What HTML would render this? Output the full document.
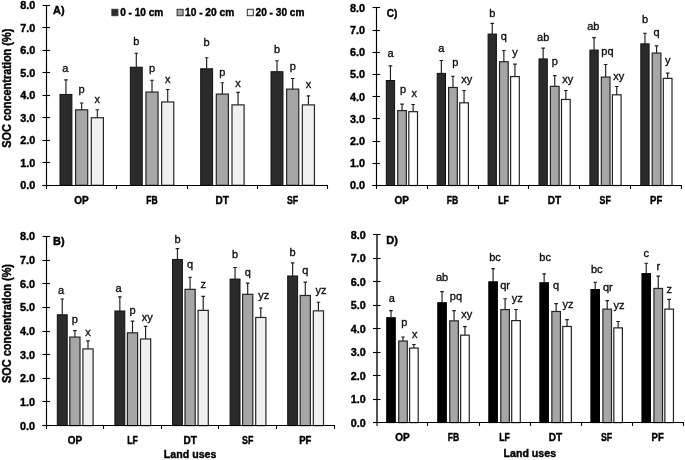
<!DOCTYPE html>
<html><head><meta charset="utf-8"><title>SOC concentration</title>
<style>
html,body{margin:0;padding:0;background:#fff;}
body{width:685px;height:460px;overflow:hidden;}
svg{display:block;filter:grayscale(1);}
text{font-family:"Liberation Sans", sans-serif;fill:#000;}
.tick{font-size:10.8px;font-weight:bold;stroke:#000;stroke-width:0.4px;}
.cat{font-size:10.4px;font-weight:bold;stroke:#000;stroke-width:0.4px;}
.let{font-size:11.0px;fill:#111;stroke:#111;stroke-width:0.35px;}
.ptitle{font-size:11px;font-weight:bold;stroke:#000;stroke-width:0.4px;}
.ytitle{font-size:12px;font-weight:bold;stroke:#000;stroke-width:0.4px;}
.xtitle{font-size:11.2px;font-weight:bold;stroke:#000;stroke-width:0.4px;}
.leg{font-size:10.6px;font-weight:bold;stroke:#000;stroke-width:0.4px;}
</style></head>
<body>
<svg width="685" height="460" viewBox="0 0 685 460">
<rect width="685" height="460" fill="#fff"/>
<rect x="60" y="94.43" width="11.9" height="90.87" fill="#2b2b2b" stroke="#111" stroke-width="1"/>
<rect x="75.6" y="109.83" width="12.1" height="75.47" fill="#a6a6a6" stroke="#262626" stroke-width="1.2"/>
<rect x="91.3" y="117.71" width="12.1" height="67.59" fill="#f0f0f0" stroke="#262626" stroke-width="1.2"/>
<rect x="130.35" y="67.2" width="11.9" height="118.1" fill="#2b2b2b" stroke="#111" stroke-width="1"/>
<rect x="145.95" y="92.05" width="12.1" height="93.25" fill="#a6a6a6" stroke="#262626" stroke-width="1.2"/>
<rect x="161.65" y="101.96" width="12.1" height="83.34" fill="#f0f0f0" stroke="#262626" stroke-width="1.2"/>
<rect x="200.7" y="68.77" width="11.9" height="116.53" fill="#2b2b2b" stroke="#111" stroke-width="1"/>
<rect x="216.3" y="94.08" width="12.1" height="91.22" fill="#a6a6a6" stroke="#262626" stroke-width="1.2"/>
<rect x="232" y="104.88" width="12.1" height="80.42" fill="#f0f0f0" stroke="#262626" stroke-width="1.2"/>
<rect x="271.05" y="71.7" width="11.9" height="113.6" fill="#2b2b2b" stroke="#111" stroke-width="1"/>
<rect x="286.65" y="89.13" width="12.1" height="96.17" fill="#a6a6a6" stroke="#262626" stroke-width="1.2"/>
<rect x="302.35" y="104.88" width="12.1" height="80.42" fill="#f0f0f0" stroke="#262626" stroke-width="1.2"/>
<path d="M65.95 94.43V79.53M64.15 79.83H67.75" stroke="#1e1e1e" stroke-width="1.15" fill="none"/>
<path d="M81.65 109.73V102.71M79.85 103.01H83.45" stroke="#1e1e1e" stroke-width="1.15" fill="none"/>
<path d="M97.35 117.61V109.46M95.55 109.76H99.15" stroke="#1e1e1e" stroke-width="1.15" fill="none"/>
<path d="M136.3 67.2V52.97M134.5 53.27H138.1" stroke="#1e1e1e" stroke-width="1.15" fill="none"/>
<path d="M152 91.95V79.98M150.2 80.28H153.8" stroke="#1e1e1e" stroke-width="1.15" fill="none"/>
<path d="M167.7 101.86V89.2M165.9 89.5H169.5" stroke="#1e1e1e" stroke-width="1.15" fill="none"/>
<path d="M206.65 68.77V57.47M204.85 57.77H208.45" stroke="#1e1e1e" stroke-width="1.15" fill="none"/>
<path d="M222.35 93.98V82.45M220.55 82.75H224.15" stroke="#1e1e1e" stroke-width="1.15" fill="none"/>
<path d="M238.05 104.78V92.13M236.25 92.43H239.85" stroke="#1e1e1e" stroke-width="1.15" fill="none"/>
<path d="M277 71.7V60.4M275.2 60.7H278.8" stroke="#1e1e1e" stroke-width="1.15" fill="none"/>
<path d="M292.7 89.03V78.18M290.9 78.48H294.5" stroke="#1e1e1e" stroke-width="1.15" fill="none"/>
<path d="M308.4 104.78V95.51M306.6 95.81H310.2" stroke="#1e1e1e" stroke-width="1.15" fill="none"/>
<text x="65.35" y="71.8" text-anchor="middle" class="let">a</text>
<text x="81.65" y="92.5" text-anchor="middle" class="let">p</text>
<text x="97.35" y="102.6" text-anchor="middle" class="let">x</text>
<text x="136.3" y="44.8" text-anchor="middle" class="let">b</text>
<text x="152" y="72" text-anchor="middle" class="let">p</text>
<text x="167.7" y="83" text-anchor="middle" class="let">x</text>
<text x="206.65" y="46" text-anchor="middle" class="let">b</text>
<text x="222.35" y="75.7" text-anchor="middle" class="let">p</text>
<text x="238.05" y="87" text-anchor="middle" class="let">x</text>
<text x="277" y="52.6" text-anchor="middle" class="let">b</text>
<text x="292.7" y="69.6" text-anchor="middle" class="let">p</text>
<text x="308.4" y="88" text-anchor="middle" class="let">x</text>
<path d="M46.5 5V186" stroke="#000" stroke-width="1.15" fill="none"/>
<path d="M42.5 185.5H328" stroke="#000" stroke-width="1.15" fill="none"/>
<path d="M42.5 185.5H50.1" stroke="#000" stroke-width="1.1"/>
<text x="35.2" y="189.2" text-anchor="end" class="tick">0.0</text>
<path d="M42.5 162.5H50.1" stroke="#000" stroke-width="1.1"/>
<text x="35.2" y="166.7" text-anchor="end" class="tick">1.0</text>
<path d="M42.5 140.5H50.1" stroke="#000" stroke-width="1.1"/>
<text x="35.2" y="144.19" text-anchor="end" class="tick">2.0</text>
<path d="M42.5 117.5H50.1" stroke="#000" stroke-width="1.1"/>
<text x="35.2" y="121.69" text-anchor="end" class="tick">3.0</text>
<path d="M42.5 95.5H50.1" stroke="#000" stroke-width="1.1"/>
<text x="35.2" y="99.18" text-anchor="end" class="tick">4.0</text>
<path d="M42.5 72.5H50.1" stroke="#000" stroke-width="1.1"/>
<text x="35.2" y="76.68" text-anchor="end" class="tick">5.0</text>
<path d="M42.5 50.5H50.1" stroke="#000" stroke-width="1.1"/>
<text x="35.2" y="54.17" text-anchor="end" class="tick">6.0</text>
<path d="M42.5 27.5H50.1" stroke="#000" stroke-width="1.1"/>
<text x="35.2" y="31.66" text-anchor="end" class="tick">7.0</text>
<path d="M42.5 5.5H50.1" stroke="#000" stroke-width="1.1"/>
<text x="35.2" y="9.16" text-anchor="end" class="tick">8.0</text>
<path d="M46.5 185.5V188.9" stroke="#000" stroke-width="1.1"/>
<path d="M116.5 185.5V188.9" stroke="#000" stroke-width="1.1"/>
<path d="M187.5 185.5V188.9" stroke="#000" stroke-width="1.1"/>
<path d="M257.5 185.5V188.9" stroke="#000" stroke-width="1.1"/>
<path d="M327.5 185.5V188.9" stroke="#000" stroke-width="1.1"/>
<text x="81.57" y="203.9" text-anchor="middle" class="cat" textLength="14.4" lengthAdjust="spacingAndGlyphs">OP</text>
<text x="151.92" y="203.9" text-anchor="middle" class="cat" textLength="11.4" lengthAdjust="spacingAndGlyphs">FB</text>
<text x="222.28" y="203.9" text-anchor="middle" class="cat" textLength="13.4" lengthAdjust="spacingAndGlyphs">DT</text>
<text x="292.62" y="203.9" text-anchor="middle" class="cat" textLength="11.3" lengthAdjust="spacingAndGlyphs">SF</text>
<text x="53" y="14" class="ptitle" textLength="11.6" lengthAdjust="spacingAndGlyphs">A)</text>
<text transform="translate(10.9 88.2) rotate(-90)" text-anchor="middle" class="ytitle" textLength="119" lengthAdjust="spacingAndGlyphs">SOC concentration (%)</text>
<rect x="57.3" y="314.77" width="9.9" height="110.83" fill="#2b2b2b" stroke="#111" stroke-width="1"/>
<rect x="69.8" y="337.09" width="10.2" height="88.51" fill="#a6a6a6" stroke="#262626" stroke-width="1.2"/>
<rect x="82.9" y="348.91" width="10.2" height="76.69" fill="#f0f0f0" stroke="#262626" stroke-width="1.2"/>
<rect x="114.9" y="310.99" width="9.9" height="114.61" fill="#2b2b2b" stroke="#111" stroke-width="1"/>
<rect x="127.4" y="332.83" width="10.2" height="92.77" fill="#a6a6a6" stroke="#262626" stroke-width="1.2"/>
<rect x="140.5" y="338.98" width="10.2" height="86.62" fill="#f0f0f0" stroke="#262626" stroke-width="1.2"/>
<rect x="172.5" y="259.46" width="9.9" height="166.14" fill="#2b2b2b" stroke="#111" stroke-width="1"/>
<rect x="185" y="289.34" width="10.2" height="136.26" fill="#a6a6a6" stroke="#262626" stroke-width="1.2"/>
<rect x="198.1" y="310.38" width="10.2" height="115.22" fill="#f0f0f0" stroke="#262626" stroke-width="1.2"/>
<rect x="230.1" y="279.07" width="9.9" height="146.53" fill="#2b2b2b" stroke="#111" stroke-width="1"/>
<rect x="242.6" y="294.3" width="10.2" height="131.3" fill="#a6a6a6" stroke="#262626" stroke-width="1.2"/>
<rect x="255.7" y="317.47" width="10.2" height="108.13" fill="#f0f0f0" stroke="#262626" stroke-width="1.2"/>
<rect x="287.7" y="276" width="9.9" height="149.6" fill="#2b2b2b" stroke="#111" stroke-width="1"/>
<rect x="300.2" y="295.48" width="10.2" height="130.12" fill="#a6a6a6" stroke="#262626" stroke-width="1.2"/>
<rect x="313.3" y="310.85" width="10.2" height="114.75" fill="#f0f0f0" stroke="#262626" stroke-width="1.2"/>
<path d="M62.25 314.77V298.67M60.45 298.97H64.05" stroke="#1e1e1e" stroke-width="1.15" fill="none"/>
<path d="M74.9 336.99V330.34M73.1 330.64H76.7" stroke="#1e1e1e" stroke-width="1.15" fill="none"/>
<path d="M88 348.81V340.5M86.2 340.81H89.8" stroke="#1e1e1e" stroke-width="1.15" fill="none"/>
<path d="M119.85 310.99V296.54M118.05 296.84H121.65" stroke="#1e1e1e" stroke-width="1.15" fill="none"/>
<path d="M132.5 332.73V320.89M130.7 321.19H134.3" stroke="#1e1e1e" stroke-width="1.15" fill="none"/>
<path d="M145.6 338.88V326.09M143.8 326.39H147.4" stroke="#1e1e1e" stroke-width="1.15" fill="none"/>
<path d="M177.45 259.46V248.32M175.65 248.62H179.25" stroke="#1e1e1e" stroke-width="1.15" fill="none"/>
<path d="M190.1 289.24V276.92M188.3 277.22H191.9" stroke="#1e1e1e" stroke-width="1.15" fill="none"/>
<path d="M203.2 310.28V296.07M201.4 296.37H205" stroke="#1e1e1e" stroke-width="1.15" fill="none"/>
<path d="M235.05 279.07V267.23M233.25 267.53H236.85" stroke="#1e1e1e" stroke-width="1.15" fill="none"/>
<path d="M247.7 294.2V282.83M245.9 283.13H249.5" stroke="#1e1e1e" stroke-width="1.15" fill="none"/>
<path d="M260.8 317.37V307.65M259 307.95H262.6" stroke="#1e1e1e" stroke-width="1.15" fill="none"/>
<path d="M292.65 276V262.5M290.85 262.8H294.45" stroke="#1e1e1e" stroke-width="1.15" fill="none"/>
<path d="M305.3 295.38V281.88M303.5 282.18H307.1" stroke="#1e1e1e" stroke-width="1.15" fill="none"/>
<path d="M318.4 310.75V301.98M316.6 302.28H320.2" stroke="#1e1e1e" stroke-width="1.15" fill="none"/>
<text x="60.95" y="294.3" text-anchor="middle" class="let">a</text>
<text x="74.9" y="322.7" text-anchor="middle" class="let">p</text>
<text x="88" y="335.7" text-anchor="middle" class="let">x</text>
<text x="118.65" y="291.7" text-anchor="middle" class="let">a</text>
<text x="132.5" y="314" text-anchor="middle" class="let">p</text>
<text x="147.3" y="321.3" text-anchor="middle" class="let">xy</text>
<text x="177.45" y="243" text-anchor="middle" class="let">b</text>
<text x="190.1" y="268.4" text-anchor="middle" class="let">q</text>
<text x="203.2" y="287.7" text-anchor="middle" class="let">z</text>
<text x="235.05" y="258.3" text-anchor="middle" class="let">b</text>
<text x="247.7" y="275.7" text-anchor="middle" class="let">q</text>
<text x="263.7" y="298.5" text-anchor="middle" class="let">yz</text>
<text x="292.65" y="256.1" text-anchor="middle" class="let">b</text>
<text x="305.3" y="274" text-anchor="middle" class="let">q</text>
<text x="321.1" y="294" text-anchor="middle" class="let">yz</text>
<path d="M46.5 236V426" stroke="#000" stroke-width="1.15" fill="none"/>
<path d="M42.5 425.5H335" stroke="#000" stroke-width="1.15" fill="none"/>
<path d="M42.5 425.5H50.1" stroke="#000" stroke-width="1.1"/>
<text x="34.9" y="429.5" text-anchor="end" class="tick">0.0</text>
<path d="M42.5 401.5H50.1" stroke="#000" stroke-width="1.1"/>
<text x="34.9" y="405.86" text-anchor="end" class="tick">1.0</text>
<path d="M42.5 378.5H50.1" stroke="#000" stroke-width="1.1"/>
<text x="34.9" y="382.23" text-anchor="end" class="tick">2.0</text>
<path d="M42.5 354.5H50.1" stroke="#000" stroke-width="1.1"/>
<text x="34.9" y="358.59" text-anchor="end" class="tick">3.0</text>
<path d="M42.5 331.5H50.1" stroke="#000" stroke-width="1.1"/>
<text x="34.9" y="334.95" text-anchor="end" class="tick">4.0</text>
<path d="M42.5 307.5H50.1" stroke="#000" stroke-width="1.1"/>
<text x="34.9" y="311.31" text-anchor="end" class="tick">5.0</text>
<path d="M42.5 283.5H50.1" stroke="#000" stroke-width="1.1"/>
<text x="34.9" y="287.67" text-anchor="end" class="tick">6.0</text>
<path d="M42.5 260.5H50.1" stroke="#000" stroke-width="1.1"/>
<text x="34.9" y="264.04" text-anchor="end" class="tick">7.0</text>
<path d="M42.5 236.5H50.1" stroke="#000" stroke-width="1.1"/>
<text x="34.9" y="240.4" text-anchor="end" class="tick">8.0</text>
<path d="M46.5 425.5V428.9" stroke="#000" stroke-width="1.1"/>
<path d="M103.5 425.5V428.9" stroke="#000" stroke-width="1.1"/>
<path d="M161.5 425.5V428.9" stroke="#000" stroke-width="1.1"/>
<path d="M218.5 425.5V428.9" stroke="#000" stroke-width="1.1"/>
<path d="M276.5 425.5V428.9" stroke="#000" stroke-width="1.1"/>
<path d="M334.5 425.5V428.9" stroke="#000" stroke-width="1.1"/>
<text x="74.9" y="444.2" text-anchor="middle" class="cat" textLength="14.4" lengthAdjust="spacingAndGlyphs">OP</text>
<text x="132.5" y="444.2" text-anchor="middle" class="cat" textLength="10.6" lengthAdjust="spacingAndGlyphs">LF</text>
<text x="190.1" y="444.2" text-anchor="middle" class="cat" textLength="13.4" lengthAdjust="spacingAndGlyphs">DT</text>
<text x="247.7" y="444.2" text-anchor="middle" class="cat" textLength="11.3" lengthAdjust="spacingAndGlyphs">SF</text>
<text x="305.3" y="444.2" text-anchor="middle" class="cat" textLength="12.2" lengthAdjust="spacingAndGlyphs">PF</text>
<text x="53" y="245" class="ptitle" textLength="11.6" lengthAdjust="spacingAndGlyphs">B)</text>
<text transform="translate(10.9 323.5) rotate(-90)" text-anchor="middle" class="ytitle" textLength="119" lengthAdjust="spacingAndGlyphs">SOC concentration (%)</text>
<text x="190.1" y="458.1" text-anchor="middle" class="xtitle" textLength="52.5" lengthAdjust="spacingAndGlyphs">Land uses</text>
<rect x="386.3" y="80.49" width="8.3" height="105.01" fill="#2b2b2b" stroke="#111" stroke-width="1"/>
<rect x="397.7" y="110.58" width="8.7" height="74.92" fill="#a6a6a6" stroke="#262626" stroke-width="1.2"/>
<rect x="408.8" y="111.69" width="8.7" height="73.81" fill="#ffffff" stroke="#222" stroke-width="1.2"/>
<rect x="437.2" y="73.38" width="8.3" height="112.12" fill="#2b2b2b" stroke="#111" stroke-width="1"/>
<rect x="448.6" y="87.48" width="8.7" height="98.02" fill="#a6a6a6" stroke="#262626" stroke-width="1.2"/>
<rect x="459.7" y="102.8" width="8.7" height="82.7" fill="#ffffff" stroke="#222" stroke-width="1.2"/>
<rect x="488.1" y="34.07" width="8.3" height="151.43" fill="#2b2b2b" stroke="#111" stroke-width="1"/>
<rect x="499.5" y="61.71" width="8.7" height="123.79" fill="#a6a6a6" stroke="#262626" stroke-width="1.2"/>
<rect x="510.6" y="76.59" width="8.7" height="108.91" fill="#ffffff" stroke="#222" stroke-width="1.2"/>
<rect x="539" y="58.94" width="8.3" height="126.56" fill="#2b2b2b" stroke="#111" stroke-width="1"/>
<rect x="550.4" y="86.37" width="8.7" height="99.13" fill="#a6a6a6" stroke="#262626" stroke-width="1.2"/>
<rect x="561.5" y="99.47" width="8.7" height="86.03" fill="#ffffff" stroke="#222" stroke-width="1.2"/>
<rect x="589.9" y="50.06" width="8.3" height="135.44" fill="#2b2b2b" stroke="#111" stroke-width="1"/>
<rect x="601.3" y="77.04" width="8.7" height="108.46" fill="#a6a6a6" stroke="#262626" stroke-width="1.2"/>
<rect x="612.4" y="94.81" width="8.7" height="90.69" fill="#ffffff" stroke="#222" stroke-width="1.2"/>
<rect x="640.8" y="43.84" width="8.3" height="141.66" fill="#2b2b2b" stroke="#111" stroke-width="1"/>
<rect x="652.2" y="53.05" width="8.7" height="132.45" fill="#a6a6a6" stroke="#262626" stroke-width="1.2"/>
<rect x="663.3" y="78.37" width="8.7" height="107.13" fill="#ffffff" stroke="#222" stroke-width="1.2"/>
<path d="M390.45 80.49V65.55M388.65 65.85H392.25" stroke="#1e1e1e" stroke-width="1.15" fill="none"/>
<path d="M402.05 110.48V103.76M400.25 104.06H403.85" stroke="#1e1e1e" stroke-width="1.15" fill="none"/>
<path d="M413.15 111.59V104.2M411.35 104.5H414.95" stroke="#1e1e1e" stroke-width="1.15" fill="none"/>
<path d="M441.35 73.38V60.22M439.55 60.52H443.15" stroke="#1e1e1e" stroke-width="1.15" fill="none"/>
<path d="M452.95 87.38V75.99M451.15 76.29H454.75" stroke="#1e1e1e" stroke-width="1.15" fill="none"/>
<path d="M464.05 102.7V90.21M462.25 90.51H465.85" stroke="#1e1e1e" stroke-width="1.15" fill="none"/>
<path d="M492.25 34.07V23.13M490.45 23.43H494.05" stroke="#1e1e1e" stroke-width="1.15" fill="none"/>
<path d="M503.85 61.61V50.23M502.05 50.53H505.65" stroke="#1e1e1e" stroke-width="1.15" fill="none"/>
<path d="M514.95 76.49V63.78M513.15 64.08H516.75" stroke="#1e1e1e" stroke-width="1.15" fill="none"/>
<path d="M543.15 58.94V47.78M541.35 48.08H544.95" stroke="#1e1e1e" stroke-width="1.15" fill="none"/>
<path d="M554.75 86.27V75.33M552.95 75.63H556.55" stroke="#1e1e1e" stroke-width="1.15" fill="none"/>
<path d="M565.85 99.37V90.21M564.05 90.51H567.65" stroke="#1e1e1e" stroke-width="1.15" fill="none"/>
<path d="M594.05 50.06V37.34M592.25 37.64H595.85" stroke="#1e1e1e" stroke-width="1.15" fill="none"/>
<path d="M605.65 76.94V64.22M603.85 64.52H607.45" stroke="#1e1e1e" stroke-width="1.15" fill="none"/>
<path d="M616.75 94.71V86.21M614.95 86.51H618.55" stroke="#1e1e1e" stroke-width="1.15" fill="none"/>
<path d="M644.95 43.84V32.9M643.15 33.2H646.75" stroke="#1e1e1e" stroke-width="1.15" fill="none"/>
<path d="M656.55 52.95V45.56M654.75 45.86H658.35" stroke="#1e1e1e" stroke-width="1.15" fill="none"/>
<path d="M667.65 78.27V72.88M665.85 73.18H669.45" stroke="#1e1e1e" stroke-width="1.15" fill="none"/>
<text x="390.45" y="57.4" text-anchor="middle" class="let">a</text>
<text x="403.15" y="93.4" text-anchor="middle" class="let">p</text>
<text x="414.25" y="97.3" text-anchor="middle" class="let">x</text>
<text x="441.35" y="52.2" text-anchor="middle" class="let">a</text>
<text x="455.35" y="66.2" text-anchor="middle" class="let">p</text>
<text x="466.85" y="83" text-anchor="middle" class="let">xy</text>
<text x="492.25" y="16.5" text-anchor="middle" class="let">b</text>
<text x="503.85" y="40.4" text-anchor="middle" class="let">q</text>
<text x="514.95" y="56" text-anchor="middle" class="let">y</text>
<text x="543.15" y="40.5" text-anchor="middle" class="let">ab</text>
<text x="554.75" y="65.3" text-anchor="middle" class="let">p</text>
<text x="567.75" y="83.2" text-anchor="middle" class="let">xy</text>
<text x="593.25" y="29.5" text-anchor="middle" class="let">ab</text>
<text x="607.45" y="55.2" text-anchor="middle" class="let">pq</text>
<text x="618.75" y="80.4" text-anchor="middle" class="let">xy</text>
<text x="644.95" y="22.8" text-anchor="middle" class="let">b</text>
<text x="656.55" y="36.3" text-anchor="middle" class="let">q</text>
<text x="667.65" y="63.9" text-anchor="middle" class="let">y</text>
<path d="M376.5 7V186" stroke="#000" stroke-width="1.15" fill="none"/>
<path d="M372.5 185.5H682" stroke="#000" stroke-width="1.15" fill="none"/>
<path d="M372.5 185.5H380.1" stroke="#000" stroke-width="1.1"/>
<text x="365" y="189.4" text-anchor="end" class="tick">0.0</text>
<path d="M372.5 163.5H380.1" stroke="#000" stroke-width="1.1"/>
<text x="365" y="167.19" text-anchor="end" class="tick">1.0</text>
<path d="M372.5 141.5H380.1" stroke="#000" stroke-width="1.1"/>
<text x="365" y="144.97" text-anchor="end" class="tick">2.0</text>
<path d="M372.5 118.5H380.1" stroke="#000" stroke-width="1.1"/>
<text x="365" y="122.76" text-anchor="end" class="tick">3.0</text>
<path d="M372.5 96.5H380.1" stroke="#000" stroke-width="1.1"/>
<text x="365" y="100.55" text-anchor="end" class="tick">4.0</text>
<path d="M372.5 74.5H380.1" stroke="#000" stroke-width="1.1"/>
<text x="365" y="78.34" text-anchor="end" class="tick">5.0</text>
<path d="M372.5 52.5H380.1" stroke="#000" stroke-width="1.1"/>
<text x="365" y="56.13" text-anchor="end" class="tick">6.0</text>
<path d="M372.5 30.5H380.1" stroke="#000" stroke-width="1.1"/>
<text x="365" y="33.91" text-anchor="end" class="tick">7.0</text>
<path d="M372.5 7.5H380.1" stroke="#000" stroke-width="1.1"/>
<text x="365" y="11.7" text-anchor="end" class="tick">8.0</text>
<path d="M376.5 185.5V188.9" stroke="#000" stroke-width="1.1"/>
<path d="M427.5 185.5V188.9" stroke="#000" stroke-width="1.1"/>
<path d="M478.5 185.5V188.9" stroke="#000" stroke-width="1.1"/>
<path d="M528.5 185.5V188.9" stroke="#000" stroke-width="1.1"/>
<path d="M579.5 185.5V188.9" stroke="#000" stroke-width="1.1"/>
<path d="M630.5 185.5V188.9" stroke="#000" stroke-width="1.1"/>
<path d="M681.5 185.5V188.9" stroke="#000" stroke-width="1.1"/>
<text x="401.65" y="204.1" text-anchor="middle" class="cat" textLength="14.4" lengthAdjust="spacingAndGlyphs">OP</text>
<text x="452.55" y="204.1" text-anchor="middle" class="cat" textLength="11.4" lengthAdjust="spacingAndGlyphs">FB</text>
<text x="503.45" y="204.1" text-anchor="middle" class="cat" textLength="10.6" lengthAdjust="spacingAndGlyphs">LF</text>
<text x="554.35" y="204.1" text-anchor="middle" class="cat" textLength="13.4" lengthAdjust="spacingAndGlyphs">DT</text>
<text x="605.25" y="204.1" text-anchor="middle" class="cat" textLength="11.3" lengthAdjust="spacingAndGlyphs">SF</text>
<text x="656.15" y="204.1" text-anchor="middle" class="cat" textLength="12.2" lengthAdjust="spacingAndGlyphs">PF</text>
<text x="386.8" y="16.6" class="ptitle" textLength="10.6" lengthAdjust="spacingAndGlyphs">C)</text>
<rect x="386.7" y="317.7" width="8.6" height="104.9" fill="#000000" stroke="#000" stroke-width="1"/>
<rect x="398.7" y="341.04" width="8.6" height="81.56" fill="#a6a6a6" stroke="#262626" stroke-width="1.2"/>
<rect x="409.6" y="348.08" width="8.6" height="74.52" fill="#ffffff" stroke="#222" stroke-width="1.2"/>
<rect x="437.75" y="302.67" width="8.6" height="119.93" fill="#000000" stroke="#000" stroke-width="1"/>
<rect x="449.75" y="320.85" width="8.6" height="101.75" fill="#a6a6a6" stroke="#262626" stroke-width="1.2"/>
<rect x="460.65" y="335.17" width="8.6" height="87.43" fill="#ffffff" stroke="#222" stroke-width="1.2"/>
<rect x="488.8" y="281.78" width="8.6" height="140.82" fill="#000000" stroke="#000" stroke-width="1"/>
<rect x="500.8" y="309.58" width="8.6" height="113.02" fill="#a6a6a6" stroke="#262626" stroke-width="1.2"/>
<rect x="511.7" y="320.61" width="8.6" height="101.99" fill="#ffffff" stroke="#222" stroke-width="1.2"/>
<rect x="539.85" y="282.72" width="8.6" height="139.88" fill="#000000" stroke="#000" stroke-width="1"/>
<rect x="551.85" y="311.46" width="8.6" height="111.14" fill="#a6a6a6" stroke="#262626" stroke-width="1.2"/>
<rect x="562.75" y="326.48" width="8.6" height="96.12" fill="#ffffff" stroke="#222" stroke-width="1.2"/>
<rect x="590.9" y="289.53" width="8.6" height="133.07" fill="#000000" stroke="#000" stroke-width="1"/>
<rect x="602.9" y="309.11" width="8.6" height="113.49" fill="#a6a6a6" stroke="#262626" stroke-width="1.2"/>
<rect x="613.8" y="327.89" width="8.6" height="94.71" fill="#ffffff" stroke="#222" stroke-width="1.2"/>
<rect x="641.95" y="273.56" width="8.6" height="149.04" fill="#000000" stroke="#000" stroke-width="1"/>
<rect x="653.95" y="288.45" width="8.6" height="134.15" fill="#a6a6a6" stroke="#262626" stroke-width="1.2"/>
<rect x="664.85" y="309.11" width="8.6" height="113.49" fill="#ffffff" stroke="#222" stroke-width="1.2"/>
<path d="M391 317.7V310.39M389.2 310.69H392.8" stroke="#1e1e1e" stroke-width="1.15" fill="none"/>
<path d="M403 340.94V336.68M401.2 336.98H404.8" stroke="#1e1e1e" stroke-width="1.15" fill="none"/>
<path d="M413.9 347.98V344.19M412.1 344.49H415.7" stroke="#1e1e1e" stroke-width="1.15" fill="none"/>
<path d="M442.05 302.67V291.37M440.25 291.67H443.85" stroke="#1e1e1e" stroke-width="1.15" fill="none"/>
<path d="M454.05 320.75V310.39M452.25 310.69H455.85" stroke="#1e1e1e" stroke-width="1.15" fill="none"/>
<path d="M464.95 335.07V326.35M463.15 326.65H466.75" stroke="#1e1e1e" stroke-width="1.15" fill="none"/>
<path d="M493.1 281.78V268.37M491.3 268.67H494.9" stroke="#1e1e1e" stroke-width="1.15" fill="none"/>
<path d="M505.1 309.48V298.42M503.3 298.72H506.9" stroke="#1e1e1e" stroke-width="1.15" fill="none"/>
<path d="M516 320.51V309.22M514.2 309.52H517.8" stroke="#1e1e1e" stroke-width="1.15" fill="none"/>
<path d="M544.15 282.72V273.53M542.35 273.83H545.95" stroke="#1e1e1e" stroke-width="1.15" fill="none"/>
<path d="M556.15 311.36V303.35M554.35 303.65H557.95" stroke="#1e1e1e" stroke-width="1.15" fill="none"/>
<path d="M567.05 326.38V319.31M565.25 319.61H568.85" stroke="#1e1e1e" stroke-width="1.15" fill="none"/>
<path d="M595.2 289.53V281.98M593.4 282.28H597" stroke="#1e1e1e" stroke-width="1.15" fill="none"/>
<path d="M607.2 309.01V300.3M605.4 300.6H609" stroke="#1e1e1e" stroke-width="1.15" fill="none"/>
<path d="M618.1 327.79V321.19M616.3 321.49H619.9" stroke="#1e1e1e" stroke-width="1.15" fill="none"/>
<path d="M646.25 273.56V262.97M644.45 263.27H648.05" stroke="#1e1e1e" stroke-width="1.15" fill="none"/>
<path d="M658.25 288.35V275.88M656.45 276.18H660.05" stroke="#1e1e1e" stroke-width="1.15" fill="none"/>
<path d="M669.15 309.01V299.12M667.35 299.42H670.95" stroke="#1e1e1e" stroke-width="1.15" fill="none"/>
<text x="391.7" y="301.7" text-anchor="middle" class="let">a</text>
<text x="404.3" y="326.2" text-anchor="middle" class="let">p</text>
<text x="414.7" y="337.8" text-anchor="middle" class="let">x</text>
<text x="442.05" y="280.9" text-anchor="middle" class="let">ab</text>
<text x="455.95" y="300" text-anchor="middle" class="let">pq</text>
<text x="466.75" y="318.2" text-anchor="middle" class="let">xy</text>
<text x="495" y="260.8" text-anchor="middle" class="let">bc</text>
<text x="505.1" y="288.5" text-anchor="middle" class="let">qr</text>
<text x="517.2" y="302.4" text-anchor="middle" class="let">yz</text>
<text x="545.15" y="261.2" text-anchor="middle" class="let">bc</text>
<text x="556.15" y="288.7" text-anchor="middle" class="let">q</text>
<text x="568.05" y="308" text-anchor="middle" class="let">yz</text>
<text x="596.8" y="272.9" text-anchor="middle" class="let">bc</text>
<text x="607.9" y="291.3" text-anchor="middle" class="let">qr</text>
<text x="619" y="309" text-anchor="middle" class="let">yz</text>
<text x="646.25" y="256.9" text-anchor="middle" class="let">c</text>
<text x="658.25" y="269.6" text-anchor="middle" class="let">r</text>
<text x="669.15" y="292.8" text-anchor="middle" class="let">z</text>
<path d="M377 234V423" stroke="#000" stroke-width="1.35" fill="none"/>
<path d="M373 422.5H684" stroke="#000" stroke-width="1.15" fill="none"/>
<path d="M373 422.5H380.6" stroke="#000" stroke-width="1.1"/>
<text x="365.7" y="426.5" text-anchor="end" class="tick">0.0</text>
<path d="M373 399.5H380.6" stroke="#000" stroke-width="1.1"/>
<text x="365.7" y="403.02" text-anchor="end" class="tick">1.0</text>
<path d="M373 375.5H380.6" stroke="#000" stroke-width="1.1"/>
<text x="365.7" y="379.55" text-anchor="end" class="tick">2.0</text>
<path d="M373 352.5H380.6" stroke="#000" stroke-width="1.1"/>
<text x="365.7" y="356.07" text-anchor="end" class="tick">3.0</text>
<path d="M373 328.5H380.6" stroke="#000" stroke-width="1.1"/>
<text x="365.7" y="332.6" text-anchor="end" class="tick">4.0</text>
<path d="M373 305.5H380.6" stroke="#000" stroke-width="1.1"/>
<text x="365.7" y="309.12" text-anchor="end" class="tick">5.0</text>
<path d="M373 281.5H380.6" stroke="#000" stroke-width="1.1"/>
<text x="365.7" y="285.65" text-anchor="end" class="tick">6.0</text>
<path d="M373 258.5H380.6" stroke="#000" stroke-width="1.1"/>
<text x="365.7" y="262.17" text-anchor="end" class="tick">7.0</text>
<path d="M373 234.5H380.6" stroke="#000" stroke-width="1.1"/>
<text x="365.7" y="238.7" text-anchor="end" class="tick">8.0</text>
<path d="M377 422.5V425.9" stroke="#000" stroke-width="1.1"/>
<path d="M427.5 422.5V425.9" stroke="#000" stroke-width="1.1"/>
<path d="M479.5 422.5V425.9" stroke="#000" stroke-width="1.1"/>
<path d="M530.5 422.5V425.9" stroke="#000" stroke-width="1.1"/>
<path d="M581.5 422.5V425.9" stroke="#000" stroke-width="1.1"/>
<path d="M632.5 422.5V425.9" stroke="#000" stroke-width="1.1"/>
<path d="M683.5 422.5V425.9" stroke="#000" stroke-width="1.1"/>
<text x="402.42" y="441.2" text-anchor="middle" class="cat" textLength="14.4" lengthAdjust="spacingAndGlyphs">OP</text>
<text x="453.47" y="441.2" text-anchor="middle" class="cat" textLength="11.4" lengthAdjust="spacingAndGlyphs">FB</text>
<text x="504.52" y="441.2" text-anchor="middle" class="cat" textLength="10.6" lengthAdjust="spacingAndGlyphs">LF</text>
<text x="555.57" y="441.2" text-anchor="middle" class="cat" textLength="13.4" lengthAdjust="spacingAndGlyphs">DT</text>
<text x="606.62" y="441.2" text-anchor="middle" class="cat" textLength="11.3" lengthAdjust="spacingAndGlyphs">SF</text>
<text x="657.67" y="441.2" text-anchor="middle" class="cat" textLength="12.2" lengthAdjust="spacingAndGlyphs">PF</text>
<text x="386.3" y="244.3" class="ptitle" textLength="11.6" lengthAdjust="spacingAndGlyphs">D)</text>
<text x="529.8" y="457.2" text-anchor="middle" class="xtitle" textLength="52.5" lengthAdjust="spacingAndGlyphs">Land uses</text>
<rect x="111.9" y="9.3" width="6" height="6.4" fill="#2b2b2b" stroke="#333" stroke-width="1"/>
<text x="120.2" y="16" class="leg" textLength="43" lengthAdjust="spacingAndGlyphs">0 - 10 cm</text>
<rect x="177.1" y="9.3" width="6" height="6.4" fill="#a6a6a6" stroke="#333" stroke-width="1"/>
<text x="185" y="16" class="leg" textLength="49.2" lengthAdjust="spacingAndGlyphs">10 - 20 cm</text>
<rect x="247.3" y="9.3" width="6" height="6.4" fill="#f0f0f0" stroke="#333" stroke-width="1"/>
<text x="255.6" y="16" class="leg" textLength="48.8" lengthAdjust="spacingAndGlyphs">20 - 30 cm</text>
</svg>
</body></html>
